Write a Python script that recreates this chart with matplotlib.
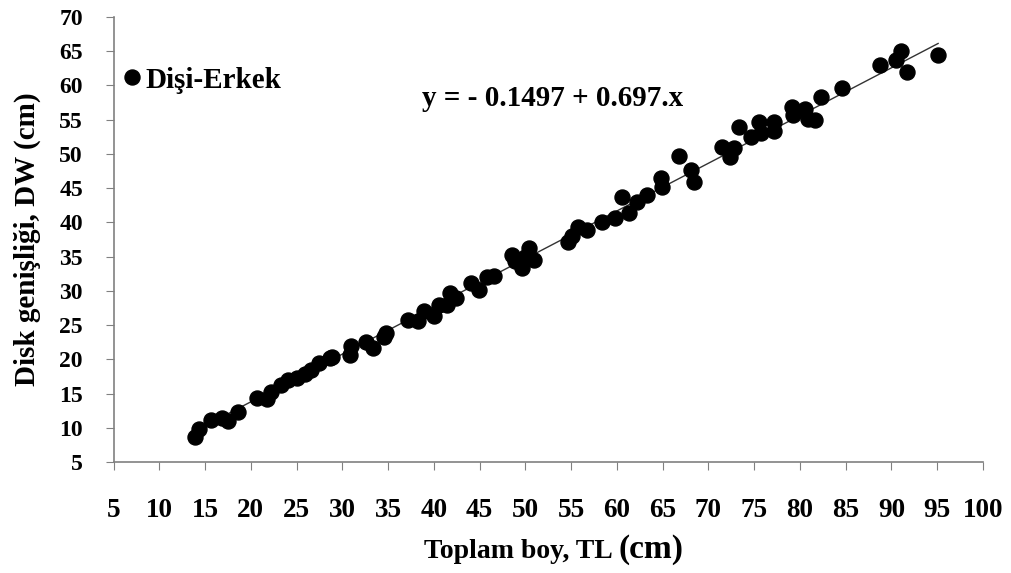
import matplotlib.pyplot as plt
import numpy as np

plt.rcParams['font.family'] = ['Liberation Serif', 'DejaVu Serif']
plt.rcParams['font.weight'] = 'bold'

# Toplam boy (TL, cm) ve disk genişliği (DW, cm)
tl = [13.9, 14.3, 15.7, 16.8, 17.5, 18.6, 20.7, 21.8, 22.2, 23.3, 24.1, 25.0,
      25.9, 26.6, 27.5, 28.6, 28.9, 30.8, 31.0, 32.6, 33.3, 34.5, 34.8, 37.2,
      38.3, 38.9, 40.0, 40.6, 41.4, 41.8, 42.4, 44.1, 44.9, 45.8, 46.6, 48.5,
      48.9, 49.6, 50.0, 50.4, 50.9, 54.7, 55.1, 55.8, 56.7, 58.4, 59.8, 60.6,
      61.3, 62.2, 63.3, 64.8, 64.9, 66.8, 68.1, 68.4, 71.5, 72.4, 72.8, 73.3,
      74.6, 75.5, 75.7, 77.2, 77.2, 79.1, 79.2, 80.6, 80.9, 81.7, 82.3, 84.6,
      88.7, 90.5, 91.0, 91.7, 95.1]
dw = [8.7, 9.8, 11.1, 11.5, 11.0, 12.3, 14.3, 14.2, 15.2, 16.2, 17.0, 17.2,
      17.9, 18.5, 19.4, 20.2, 20.3, 20.6, 22.0, 22.6, 21.6, 23.3, 23.9, 25.8,
      25.6, 27.0, 26.4, 27.9, 28.0, 29.7, 28.9, 31.1, 30.1, 32.0, 32.1, 35.3,
      34.4, 33.3, 35.0, 36.2, 34.5, 37.2, 38.0, 39.3, 38.9, 40.1, 40.6, 43.7,
      41.3, 43.0, 44.0, 46.5, 45.1, 49.7, 47.6, 45.9, 51.0, 49.6, 50.8, 54.0,
      52.5, 54.7, 53.0, 54.7, 53.3, 56.9, 55.7, 56.6, 55.1, 55.0, 58.3, 59.7,
      63.0, 63.7, 65.1, 62.0, 64.4]

# Regresyon katsayıları
kesisim = -0.1497
egim = 0.697

x_ticks = list(range(5, 101, 5))
y_ticks = list(range(5, 71, 5))

fig = plt.figure(figsize=(10.12, 5.73), dpi=100)
ax = fig.add_axes([0.1122, 0.1937, 0.8591, 0.7766])

ax.plot(tl, dw, 'o', color='black', markersize=10.8, label='Dişi-Erkek', zorder=3)

x_line = np.array([min(tl), max(tl)])
ax.plot(x_line, kesisim + egim * x_line, color='#333333', linewidth=1, zorder=2)

ax.set_xlim(5, 100)
ax.set_ylim(5, 70)
ax.set_xticks(x_ticks)
ax.set_yticks(y_ticks)

for s in ['top', 'right']:
    ax.spines[s].set_visible(False)
for s in ['left', 'bottom']:
    ax.spines[s].set_color('#808080')
    ax.spines[s].set_linewidth(1.2)

ax.tick_params(axis='x', direction='out', length=6, color='#808080', pad=20, labelsize=19.5)
ax.tick_params(axis='y', direction='out', length=6, color='#808080', pad=16, labelsize=17)

# eksen başlıkları
ax.set_ylabel('Disk genişliği, DW (cm)', fontsize=21, fontweight='bold')
ax.yaxis.set_label_coords(-0.084, 0.5)
fig.text(613 / 1012, 0.026, 'Toplam boy, TL', fontsize=20, fontweight='bold',
         ha='right', va='baseline')
fig.text(619 / 1012, 0.026, '(cm)', fontsize=24, fontweight='bold',
         ha='left', va='baseline')

ax.text(38.75, 58.1, 'y = - 0.1497 + 0.697.x', fontsize=21, fontweight='bold', va='center')

ax.legend(loc='center left', bbox_to_anchor=(0.0127, 0.858), frameon=False,
          handlelength=0.5, handletextpad=0.2, fontsize=21, borderaxespad=0, borderpad=0)

fig.savefig('out.png', dpi=100)
